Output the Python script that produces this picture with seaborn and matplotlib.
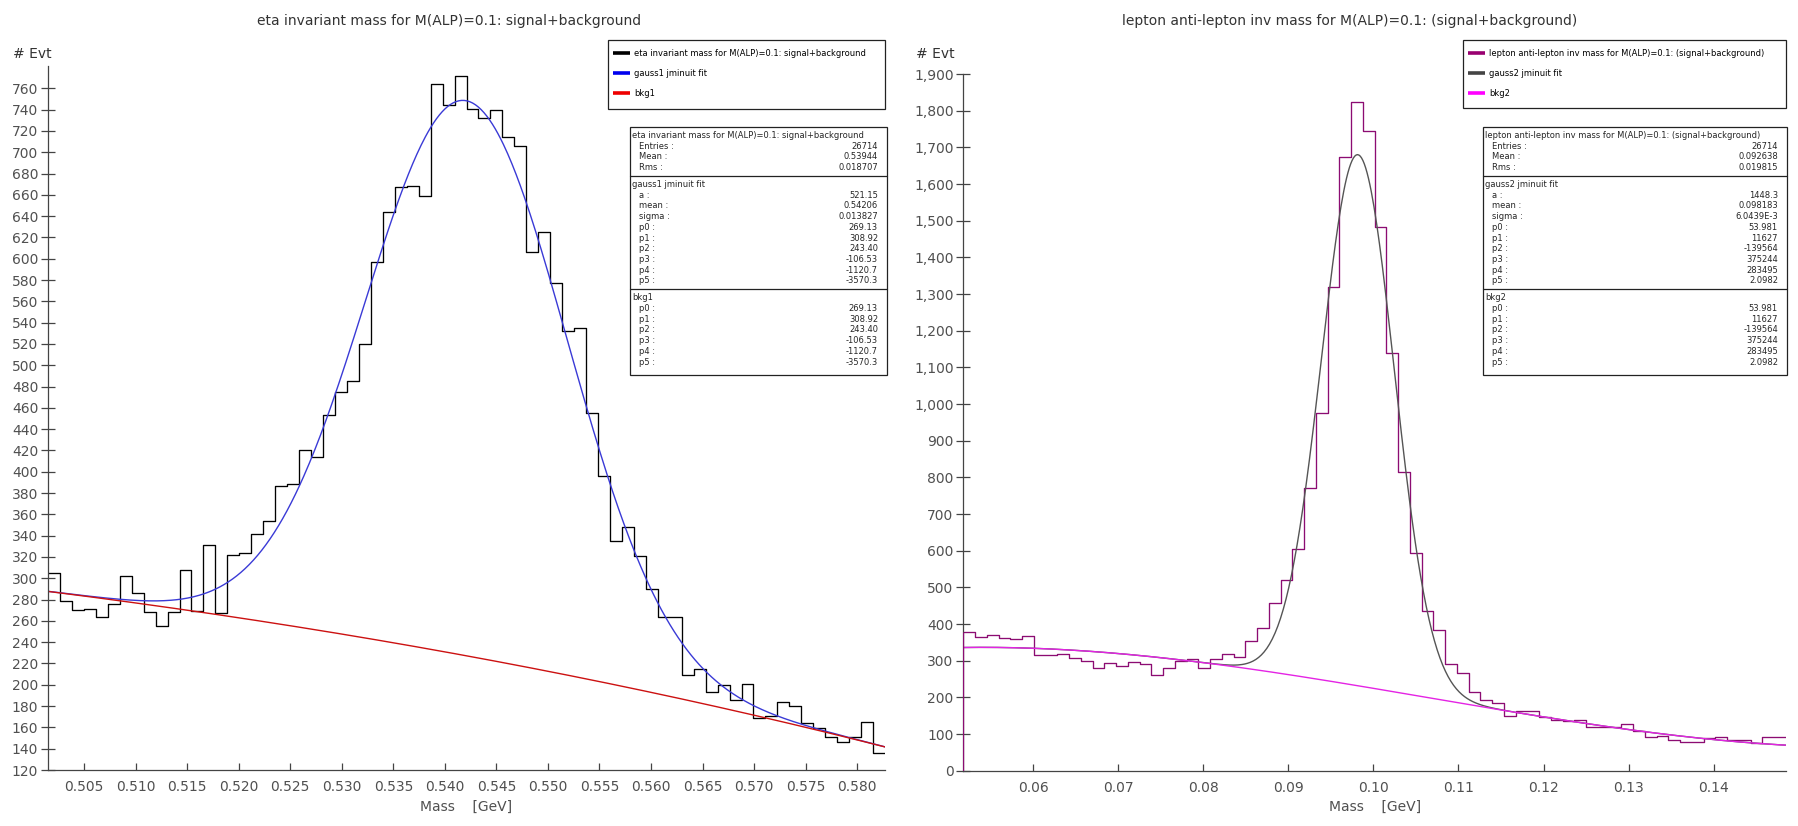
import numpy as np
import pandas as pd
import matplotlib
matplotlib.use("Agg")
import matplotlib.pyplot as plt
import matplotlib.ticker as mticker
from matplotlib.patches import Rectangle
from matplotlib.lines import Line2D
import seaborn as sns

# ---- data ----
eta_range = (0.5015, 0.5827)
eta_counts = [305, 279, 270, 271, 264, 276, 302, 286, 268, 255,
              268, 308, 269, 331, 267, 322, 324, 342, 354, 387,
              389, 420, 414, 453, 475, 485, 520, 597, 644, 667,
              668, 659, 764, 744, 772, 741, 732, 740, 714, 706,
              606, 625, 577, 532, 535, 455, 396, 335, 348, 321,
              290, 264, 264, 209, 215, 193, 200, 186, 201, 169,
              171, 184, 180, 164, 159, 151, 146, 151, 165, 136]

lep_range = (0.0518, 0.1485)
lep_counts = [379, 364, 371, 362, 358, 367, 316, 316, 318, 306,
              300, 279, 294, 285, 297, 291, 261, 280, 298, 305,
              279, 305, 318, 310, 354, 389, 457, 520, 604, 771,
              975, 1320, 1673, 1823, 1745, 1483, 1138, 815, 595, 436,
              383, 291, 267, 215, 194, 184, 148, 162, 162, 146,
              139, 135, 137, 119, 119, 119, 127, 108, 91, 94,
              83, 79, 79, 90, 92, 85, 83, 76, 92, 91]

# fit parameters as printed in the stats boxes
gauss1_a, gauss1_mean, gauss1_sigma = 521.15, 0.54206, 0.013827
bkg1_p = [269.13, 308.92, 243.40, -106.53, -1120.7, -3570.3]
gauss2_a, gauss2_mean, gauss2_sigma = 1448.3, 0.098183, 6.0439e-3
bkg2_p = [53.981, 11627, -139564, 375244, 283495, 2.0982]

eta_title = "eta invariant mass for M(ALP)=0.1: signal+background"
lep_title = "lepton anti-lepton inv mass for M(ALP)=0.1: (signal+background)"
eta_legend = [eta_title, "gauss1 jminuit fit", "bkg1"]
lep_legend = [lep_title, "gauss2 jminuit fit", "bkg2"]

eta_stats = [("Entries :", "26714"), ("Mean :", "0.53944"), ("Rms :", "0.018707")]
lep_stats = [("Entries :", "26714"), ("Mean :", "0.092638"), ("Rms :", "0.019815")]
gauss1_vals = ["521.15", "0.54206", "0.013827"]
gauss2_vals = ["1448.3", "0.098183", "6.0439E-3"]
bkg1_vals = ["269.13", "308.92", "243.40", "-106.53", "-1120.7", "-3570.3"]
bkg2_vals = ["53.981", "11627", "-139564", "375244", "283495", "2.0982"]

W, H = 1799, 826

sns.set_style("white")
plt.rcParams["font.family"] = ["DejaVu Sans"]

fig = plt.figure(figsize=(W / 100, H / 100), dpi=100)


def fx(px):
    return px / W


def fy(py):
    return 1 - py / H


def bkg(x, p):
    return sum(c * x ** i for i, c in enumerate(p))


def draw_panel(ax, rng, counts, hist_color, fit_color, bkg_color,
               a, mean, sigma, p):
    n = len(counts)
    edges = np.linspace(rng[0], rng[1], n + 1)
    df = pd.DataFrame({"mass": (edges[:-1] + edges[1:]) / 2, "n": counts})
    sns.histplot(data=df, x="mass", weights="n", bins=n, binrange=rng,
                 element="step", fill=False, color=hist_color,
                 linewidth=0.95, ax=ax)
    xs = np.linspace(rng[0], rng[1], 600)
    b = bkg(xs, p)
    g = a * np.exp(-((xs - mean) / sigma) ** 2) + b
    sns.lineplot(x=xs, y=g, color=fit_color, linewidth=1.0, estimator=None, ax=ax)
    sns.lineplot(x=xs, y=b, color=bkg_color, linewidth=1.0, estimator=None, ax=ax)
    ax.set_xlim(*rng)
    ax.set_ylabel("")
    sns.despine(ax=ax)
    for s in ("left", "bottom"):
        ax.spines[s].set_color("#444444")
        ax.spines[s].set_linewidth(0.9)
    ax.tick_params(axis="y", direction="inout", length=10, width=0.9,
                   color="#444444", labelcolor="#505050", labelsize=10, pad=2,
                   left=True)
    ax.tick_params(axis="x", direction="in", length=5, width=0.9,
                   color="#444444", labelcolor="#505050", labelsize=10, pad=7.5,
                   bottom=True)
    ax.set_xlabel("Mass    [GeV]", fontsize=10, color="#505050")
    ax.xaxis.label.set_va("center")


def legend_box(x0, x1, y0, y1, labels, colors):
    fig.add_artist(Rectangle((fx(x0), fy(y1)), fx(x1) - fx(x0), fy(y0) - fy(y1),
                             transform=fig.transFigure, fill=False,
                             edgecolor="#222222", linewidth=0.9))
    for i, (lab, c) in enumerate(zip(labels, colors)):
        yy = fy(y0 + 13 + 20 * i)
        fig.add_artist(Line2D([fx(x0 + 5), fx(x0 + 22)], [yy, yy], color=c,
                              linewidth=2.6, transform=fig.transFigure,
                              solid_capstyle="butt"))
        fig.text(fx(x0 + 26), yy, lab, fontsize=6, va="center", ha="left",
                 color="black")


def stats_box(x0, x1, y0, sections):
    row_h = 10.7
    y = y0
    seps = []
    for head, rows in sections:
        yc = y + 8.5
        fig.text(fx(x0 + 2), fy(yc), head, fontsize=6, va="center", ha="left")
        for lab, val in rows:
            yc += row_h
            fig.text(fx(x0 + 9), fy(yc), lab, fontsize=6, va="center", ha="left")
            fig.text(fx(x1 - 9), fy(yc), val, fontsize=6, va="center", ha="right")
        y = yc + 8.5
        seps.append(y)
    bottom = seps[-1] + 4.5
    fig.add_artist(Rectangle((fx(x0), fy(bottom)), fx(x1) - fx(x0),
                             fy(y0) - fy(bottom), transform=fig.transFigure,
                             fill=False, edgecolor="#222222", linewidth=0.9))
    for s in seps[:-1]:
        fig.add_artist(Line2D([fx(x0), fx(x1)], [fy(s), fy(s)], color="#222222",
                              linewidth=0.9, transform=fig.transFigure))


par_names = ["a :", "mean :", "sigma :"]
p_names = ["p0 :", "p1 :", "p2 :", "p3 :", "p4 :", "p5 :"]

# ---- left panel: eta ----
ax1 = fig.add_axes([fx(48), (H - 770) / H, 837 / W, 704 / H])
draw_panel(ax1, eta_range, eta_counts, "#000000", "#3a3ad6", "#cc1111",
           gauss1_a, gauss1_mean, gauss1_sigma, bkg1_p)
ax1.set_ylim(120, 781)
ax1.yaxis.set_major_locator(mticker.FixedLocator(np.arange(120, 761, 20)))
ax1.xaxis.set_major_locator(mticker.FixedLocator(np.arange(0.505, 0.5801, 0.005)))
ax1.xaxis.set_major_formatter(mticker.FormatStrFormatter("%.3f"))
ax1.xaxis.set_label_coords(0.5, (770 - 807) / 704)

# ---- right panel: lepton pair ----
ax2 = fig.add_axes([fx(963.3), (H - 770.7) / H, 822.7 / W, 696.7 / H])
draw_panel(ax2, lep_range, lep_counts, "#8c0c72", "#555555", "#e424e4",
           gauss2_a, gauss2_mean, gauss2_sigma, bkg2_p)
# the histogram outline starts from the baseline at its first edge
ax2.vlines(lep_range[0], 0, lep_counts[0], color="#8c0c72", linewidth=0.95,
           zorder=3)
ax2.set_ylim(0, 1900)
ax2.yaxis.set_major_locator(mticker.FixedLocator(np.arange(0, 1901, 100)))
ax2.yaxis.set_major_formatter(mticker.FuncFormatter(lambda v, pos: f"{int(v):,}"))
ax2.xaxis.set_major_locator(mticker.FixedLocator(np.arange(0.06, 0.1401, 0.01)))
ax2.xaxis.set_major_formatter(mticker.FormatStrFormatter("%.2f"))
ax2.xaxis.set_label_coords(0.5, (770.7 - 807) / 696.7)

# titles and y labels
fig.text(fx(449.5), fy(21), eta_title, fontsize=10, color="#333333",
         ha="center", va="center")
fig.text(fx(1349.5), fy(21), lep_title, fontsize=10, color="#333333",
         ha="center", va="center")
fig.text(fx(32), fy(54), "# Evt", fontsize=10, color="#333333",
         ha="center", va="center")
fig.text(fx(935), fy(54), "# Evt", fontsize=10, color="#333333",
         ha="center", va="center")

# legends
legend_box(608, 885, 40, 109, eta_legend, ["#000000", "#0000ee", "#ee0000"])
legend_box(1463, 1786, 40, 108, lep_legend, ["#990070", "#444444", "#ff00ff"])

# stats boxes
stats_box(630, 887, 127, [
    (eta_title, eta_stats),
    ("gauss1 jminuit fit", list(zip(par_names + p_names, gauss1_vals + bkg1_vals))),
    ("bkg1", list(zip(p_names, bkg1_vals))),
])
stats_box(1483, 1787, 127, [
    (lep_title, lep_stats),
    ("gauss2 jminuit fit", list(zip(par_names + p_names, gauss2_vals + bkg2_vals))),
    ("bkg2", list(zip(p_names, bkg2_vals))),
])

fig.savefig("out.png", dpi=100)
